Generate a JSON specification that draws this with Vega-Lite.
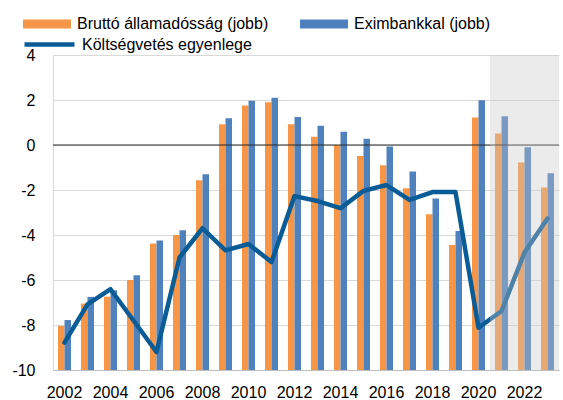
{
  "$schema": "https://vega.github.io/schema/vega-lite/v6.json",
  "width": 506,
  "height": 315,
  "autosize": "none",
  "padding": {"left": 53, "top": 55, "right": 4, "bottom": 30},
  "background": "white",
  "config": {
    "font": "Liberation Sans",
    "view": {"stroke": null},
    "axis": {"labelColor": "#000000", "labelFont": "Liberation Sans"},
    "legend": {"labelColor": "#000000", "labelFont": "Liberation Sans"}
  },
  "datasets": {
    "bars": [
      {"year": 2002, "series": "Bruttó államadósság (jobb)", "value": -8.04},
      {"year": 2002, "series": "Eximbankkal (jobb)", "value": -7.78},
      {"year": 2003, "series": "Bruttó államadósság (jobb)", "value": -7.05},
      {"year": 2003, "series": "Eximbankkal (jobb)", "value": -6.75},
      {"year": 2004, "series": "Bruttó államadósság (jobb)", "value": -6.74},
      {"year": 2004, "series": "Eximbankkal (jobb)", "value": -6.46},
      {"year": 2005, "series": "Bruttó államadósság (jobb)", "value": -6.0},
      {"year": 2005, "series": "Eximbankkal (jobb)", "value": -5.79},
      {"year": 2006, "series": "Bruttó államadósság (jobb)", "value": -4.38},
      {"year": 2006, "series": "Eximbankkal (jobb)", "value": -4.24},
      {"year": 2007, "series": "Bruttó államadósság (jobb)", "value": -4.0},
      {"year": 2007, "series": "Eximbankkal (jobb)", "value": -3.79},
      {"year": 2008, "series": "Bruttó államadósság (jobb)", "value": -1.57},
      {"year": 2008, "series": "Eximbankkal (jobb)", "value": -1.3},
      {"year": 2009, "series": "Bruttó államadósság (jobb)", "value": 0.92},
      {"year": 2009, "series": "Eximbankkal (jobb)", "value": 1.19},
      {"year": 2010, "series": "Bruttó államadósság (jobb)", "value": 1.76},
      {"year": 2010, "series": "Eximbankkal (jobb)", "value": 1.97},
      {"year": 2011, "series": "Bruttó államadósság (jobb)", "value": 1.9},
      {"year": 2011, "series": "Eximbankkal (jobb)", "value": 2.1},
      {"year": 2012, "series": "Bruttó államadósság (jobb)", "value": 0.92},
      {"year": 2012, "series": "Eximbankkal (jobb)", "value": 1.25},
      {"year": 2013, "series": "Bruttó államadósság (jobb)", "value": 0.37},
      {"year": 2013, "series": "Eximbankkal (jobb)", "value": 0.86},
      {"year": 2014, "series": "Bruttó államadósság (jobb)", "value": 0.0},
      {"year": 2014, "series": "Eximbankkal (jobb)", "value": 0.59},
      {"year": 2015, "series": "Bruttó államadósság (jobb)", "value": -0.49},
      {"year": 2015, "series": "Eximbankkal (jobb)", "value": 0.28},
      {"year": 2016, "series": "Bruttó államadósság (jobb)", "value": -0.9},
      {"year": 2016, "series": "Eximbankkal (jobb)", "value": -0.07},
      {"year": 2017, "series": "Bruttó államadósság (jobb)", "value": -1.92},
      {"year": 2017, "series": "Eximbankkal (jobb)", "value": -1.18},
      {"year": 2018, "series": "Bruttó államadósság (jobb)", "value": -3.08},
      {"year": 2018, "series": "Eximbankkal (jobb)", "value": -2.38},
      {"year": 2019, "series": "Bruttó államadósság (jobb)", "value": -4.44},
      {"year": 2019, "series": "Eximbankkal (jobb)", "value": -3.82},
      {"year": 2020, "series": "Bruttó államadósság (jobb)", "value": 1.22},
      {"year": 2020, "series": "Eximbankkal (jobb)", "value": 1.99},
      {"year": 2021, "series": "Bruttó államadósság (jobb)", "value": 0.51},
      {"year": 2021, "series": "Eximbankkal (jobb)", "value": 1.28},
      {"year": 2022, "series": "Bruttó államadósság (jobb)", "value": -0.78},
      {"year": 2022, "series": "Eximbankkal (jobb)", "value": -0.1},
      {"year": 2023, "series": "Bruttó államadósság (jobb)", "value": -1.89},
      {"year": 2023, "series": "Eximbankkal (jobb)", "value": -1.26}
    ],
    "line": [
      {"year": 2002, "series": "Költségvetés egyenlege", "value": -8.78},
      {"year": 2003, "series": "Költségvetés egyenlege", "value": -7.08},
      {"year": 2004, "series": "Költségvetés egyenlege", "value": -6.41},
      {"year": 2005, "series": "Költségvetés egyenlege", "value": -7.8},
      {"year": 2006, "series": "Költségvetés egyenlege", "value": -9.2},
      {"year": 2007, "series": "Költségvetés egyenlege", "value": -5.0},
      {"year": 2008, "series": "Költségvetés egyenlege", "value": -3.7},
      {"year": 2009, "series": "Költségvetés egyenlege", "value": -4.68},
      {"year": 2010, "series": "Költségvetés egyenlege", "value": -4.4},
      {"year": 2011, "series": "Költségvetés egyenlege", "value": -5.2},
      {"year": 2012, "series": "Költségvetés egyenlege", "value": -2.27},
      {"year": 2013, "series": "Költségvetés egyenlege", "value": -2.49},
      {"year": 2014, "series": "Költségvetés egyenlege", "value": -2.81},
      {"year": 2015, "series": "Költségvetés egyenlege", "value": -2.04},
      {"year": 2016, "series": "Költségvetés egyenlege", "value": -1.78},
      {"year": 2017, "series": "Költségvetés egyenlege", "value": -2.44},
      {"year": 2018, "series": "Költségvetés egyenlege", "value": -2.09},
      {"year": 2019, "series": "Költségvetés egyenlege", "value": -2.09},
      {"year": 2020, "series": "Költségvetés egyenlege", "value": -8.12},
      {"year": 2021, "series": "Költségvetés egyenlege", "value": -7.38},
      {"year": 2022, "series": "Költségvetés egyenlege", "value": -4.78},
      {"year": 2023, "series": "Költségvetés egyenlege", "value": -3.27}
    ],
    "forecast": [
      {"year": 2021},
      {"year": 2022},
      {"year": 2023}
    ]
  },
  "encoding": {
    "x": {
      "field": "year",
      "type": "ordinal",
      "scale": {"paddingInner": 0, "paddingOuter": 0},
      "axis": {
        "title": null,
        "ticks": false,
        "labelAngle": 0,
        "labelFontSize": 16,
        "labelPadding": 14,
        "values": [2002, 2004, 2006, 2008, 2010, 2012, 2014, 2016, 2018, 2020, 2022],
        "domainColor": "#bfbfbf",
        "grid": false
      }
    }
  },
  "layer": [
    {
      "data": {"name": "bars"},
      "mark": {"type": "bar"},
      "encoding": {
        "xOffset": {
          "field": "series",
          "type": "nominal",
          "scale": {"paddingInner": 0, "paddingOuter": 0.77}
        },
        "y": {
          "field": "value",
          "type": "quantitative",
          "scale": {"domain": [-10, 4], "nice": false, "zero": false},
          "axis": {
            "title": null,
            "values": [-10, -8, -6, -4, -2, 0, 2, 4],
            "labelExpr": "toString(datum.value)",
            "ticks": false,
            "labelPadding": 18,
            "labelFontSize": 16,
            "gridColor": "#d9d9d9",
            "domainColor": "#d9d9d9"
          }
        },
        "y2": {"datum": -10},
        "fill": {
          "field": "series",
          "type": "nominal",
          "scale": {
            "domain": ["Bruttó államadósság (jobb)", "Eximbankkal (jobb)"],
            "range": ["#f79646", "#4f81bd"]
          },
          "legend": {
            "orient": "none",
            "legendX": -30,
            "legendY": -55,
            "direction": "horizontal",
            "title": null,
            "symbolType": "M-1,-0.19H1V0.19H-1Z",
            "symbolSize": 2304,
            "symbolStrokeWidth": 0,
            "labelFontSize": 16,
            "labelOffset": 6,
            "columnPadding": 31,
            "labelLimit": 400
          }
        }
      }
    },
    {
      "data": {"values": [{"v": 0}]},
      "mark": {"type": "rule", "color": "#262626", "strokeWidth": 1},
      "encoding": {"y": {"datum": 0}, "x": null}
    },
    {
      "data": {"name": "line"},
      "mark": {"type": "line", "strokeWidth": 4.5, "strokeJoin": "round", "strokeCap": "round"},
      "encoding": {
        "y": {"field": "value", "type": "quantitative"},
        "stroke": {
          "field": "series",
          "type": "nominal",
          "scale": {"range": ["#0a5c96"]},
          "legend": {
            "orient": "none",
            "legendX": -31,
            "legendY": -38,
            "title": null,
            "symbolType": "stroke",
            "symbolSize": 2500,
            "symbolStrokeWidth": 4.5,
            "labelFontSize": 16,
            "labelOffset": 5,
            "labelLimit": 400
          }
        }
      }
    },
    {
      "data": {"name": "forecast"},
      "mark": {"type": "rect", "fill": "#c8c8c8", "opacity": 0.36},
      "encoding": {
        "y": {"datum": 4},
        "y2": {"datum": -10}
      }
    }
  ]
}
